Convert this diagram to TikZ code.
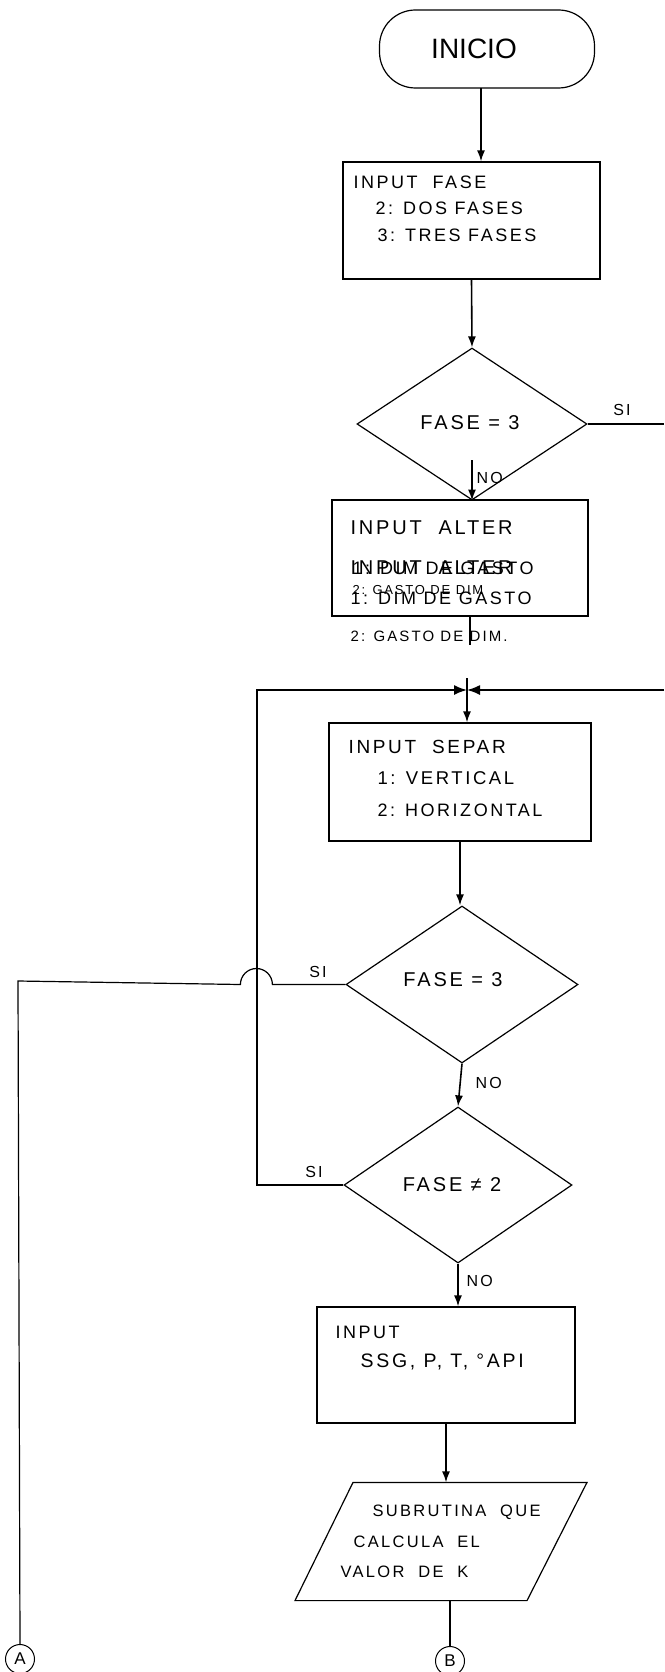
\documentclass[tikz,border=0pt]{standalone}
\usepackage{fontspec}
\setmainfont{Liberation Sans}
\newfontfamily\hand[LetterSpace=14]{Liberation Sans}
\usetikzlibrary{arrows.meta,shapes.geometric,calc}
\begin{document}
\begin{tikzpicture}[x=1pt,y=-1pt,
  line width=1.2pt,
  term/.style={draw, rectangle, rounded corners=36pt, minimum width=215pt, minimum height=78pt, inner sep=0pt},
  box/.style={draw, rectangle, inner sep=0pt},
  dia/.style={draw, diamond, inner sep=0pt},
  circ/.style={draw, circle, minimum size=29pt, inner sep=0pt, line width=1pt, font=\hand\fontsize{17}{17}\selectfont},
  txt/.style={anchor=west, inner sep=0pt, font=\hand\fontsize{18}{18}\selectfont},
  ctxt/.style={anchor=center, inner sep=0pt, font=\hand\fontsize{20}{20}\selectfont},
  lbl/.style={anchor=center, inner sep=0pt, font=\hand\fontsize{16}{16}\selectfont},
  arr/.style={-{Latex[length=11pt,width=8pt]}, line width=1.6pt},
  tie/.style={-{Latex[length=13pt,width=10pt]}, line width=1.6pt}]
\useasboundingbox (0,0) rectangle (664,1672);

% nodes
\node[term] (ini) at (487,49) {};
\node[inner sep=0pt, font=\fontsize{28}{30}\selectfont] (init) at (474,49) {INICIO};
\coordinate (inia) at (481,88);
\node[box, minimum width=257pt, minimum height=117pt] (fase) at (471.5,220.5) {};
\node[txt] (t1) at (353,182) {INPUT\ \ FASE};
\node[txt] (t2) at (375,208) {2: DOS FASES};
\node[txt] (t3) at (377,235) {3: TRES FASES};

\node[dia, minimum width=230pt, minimum height=152pt] (d1) at (472,424) {};
\node[ctxt] (d1t) at (470,423) {FASE = 3};
\node[lbl] (si1) at (622,410) {SI};
\node[lbl, anchor=west] (no1) at (476,478) {NO};
\coordinate (d1no) at (472,460);
\coordinate (re1) at (664,424);

\node[box, minimum width=256pt, minimum height=116pt] (alter) at (460,558) {};
\node[txt, font=\hand\fontsize{20}{20}\selectfont] (a1) at (350,528) {INPUT\ \ ALTER};
\node[txt, font=\hand\fontsize{20}{20}\selectfont] (a2) at (350,568) {INPUT\ \ ALTER};
\node[txt] (a2b) at (352,568) {1: DIM DE GASTO};
\node[txt] (a3) at (350,598) {1: DIM DE GASTO};
\node[txt, font=\hand\fontsize{13}{13}\selectfont] (a3b) at (352,590) {2: GASTO DE DIM};
\node[txt, font=\hand\fontsize{15}{15}\selectfont] (a4) at (350,636) {2: GASTO DE DIM.};
\coordinate (gap) at (470,645);

\coordinate (j) at (467,690);
\coordinate (jt) at (467,678);
\coordinate (re2) at (664,690);
\coordinate (lc) at (257,690);

\node[box, minimum width=262pt, minimum height=118pt] (sep) at (460,782) {};
\node[txt, font=\hand\fontsize{19}{19}\selectfont] (s1) at (348,747) {INPUT\ \ SEPAR};
\node[txt, font=\hand\fontsize{18.5}{19}\selectfont] (s2) at (377,778) {1: VERTICAL};
\node[txt, font=\hand\fontsize{18}{19}\selectfont] (s3) at (377,810) {2: HORIZONTAL};

\node[dia, minimum width=232pt, minimum height=157pt] (d2) at (462,984.5) {};
\node[ctxt] (d2t) at (453,980) {FASE = 3};
\node[lbl] (si2) at (318,972) {SI};
\node[lbl, anchor=west] (no2) at (475,1083) {NO};
\coordinate (cA) at (18,981);

\node[dia, minimum width=228pt, minimum height=156pt] (d3) at (458,1185) {};
\node[ctxt] (d3t) at (452,1185) {FASE ≠ 2};
\node[lbl] (si3) at (314,1172) {SI};
\node[lbl, anchor=west] (no3) at (466,1281) {NO};

\node[box, minimum width=258pt, minimum height=116pt] (inp) at (446,1365) {};
\node[txt] (i1) at (335,1332) {INPUT};
\node[txt, font=\hand\fontsize{19.5}{20}\selectfont] (i2) at (360,1362) {SSG, P, T, °API};

\node[inner sep=0pt, minimum width=234pt, minimum height=117pt] (sub) at (441,1541.5) {};
\draw ($(sub.north)+(-88,0)$) -- ($(sub.north)+(146,0)$) -- ($(sub.south)+(86,0)$) -- ($(sub.south)+(-146,0)$) -- cycle;
\node[txt, font=\hand\fontsize{16.5}{17}\selectfont] (p1) at (372,1512) {SUBRUTINA\ \ QUE};
\node[txt, font=\hand\fontsize{16.5}{17}\selectfont] (p2) at (353,1542) {CALCULA\ \ EL};
\node[txt, font=\hand\fontsize{16.5}{17}\selectfont] (p3) at (340,1572) {VALOR\ \ DE\ \ K};

\node[circ] (A) at (20,1659) {A};
\node[circ] (B) at (450,1661) {B};

% connectors
\draw[arr] (inia) -- (inia |- fase.north);
\draw[arr] (fase.south) -- (d1.north);
\draw (d1.east) -- (re1);
\draw[arr] (d1no) -- (d1.south);
\draw (gap |- alter.south) -- (gap);
\draw[tie] (re2) -- (j);
\draw[tie] (d3.west) -- (d3.west -| lc) -- (lc) -- (j);
\draw[arr] (jt) -- (jt |- sep.north);
\draw[arr] (sep.south) -- (sep.south |- d2.north);
\draw (d2.west) -- ++(-73,0) arc[start angle=0, end angle=-180, radius=16] -- (cA) -- (A.north);
\draw[arr] (d2.south) -- (d3.north);
\draw[arr] (d3.south) -- (d3.south |- inp.north);
\draw[arr] (inp.south) -- (inp.south |- sub.north);
\draw (B.north |- sub.south) -- (B.north);
\end{tikzpicture}
\end{document}
